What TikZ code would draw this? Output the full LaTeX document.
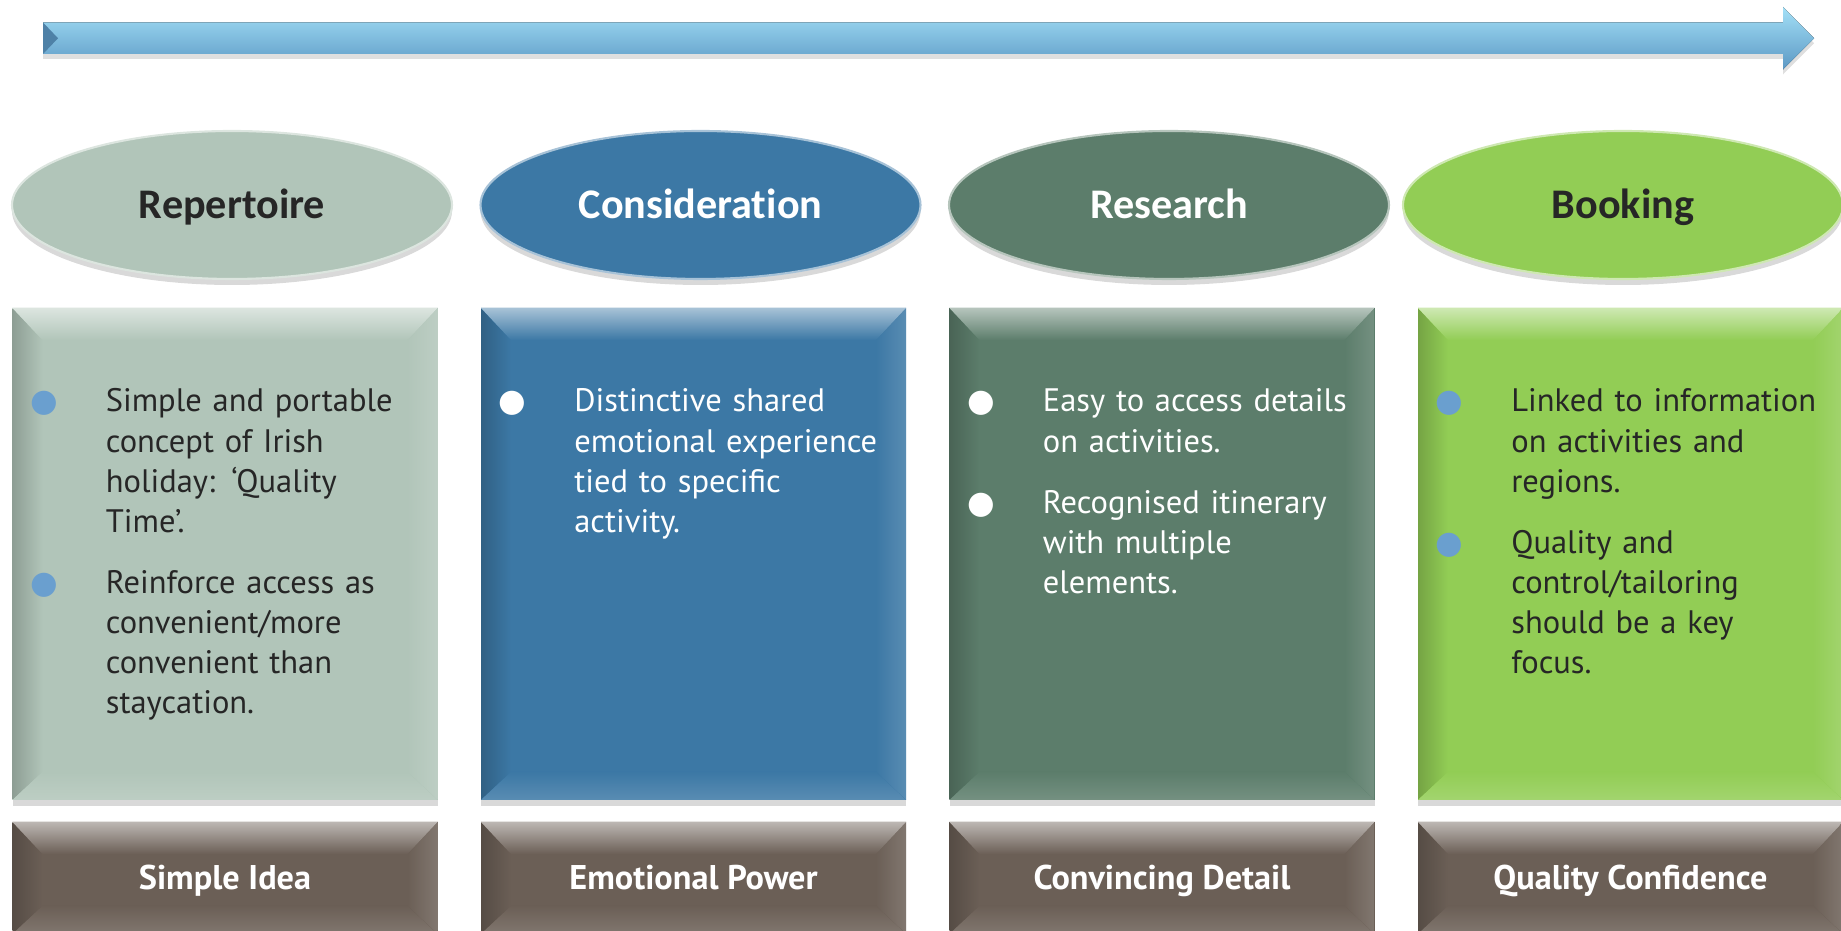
\documentclass[tikz,border=0pt]{standalone}
\usepackage{fontspec}
\setmainfont{PT Sans}
\newfontfamily\headfont[Ligatures=NoCommon]{Carlito}
\newfontfamily\dotfont{DejaVu Sans}
\usetikzlibrary{shapes.geometric, shadows, positioning}

\definecolor{sage}{HTML}{B1C5B9}
\definecolor{steel}{HTML}{3C78A5}
\definecolor{moss}{HTML}{5C7D6B}
\definecolor{lime}{HTML}{92CD55}
\definecolor{taupe}{HTML}{6B5F56}
\definecolor{dotblue}{HTML}{6A9FCF}
\definecolor{ink}{HTML}{262626}
\definecolor{arrowtop}{HTML}{A3E0F7}
\definecolor{arrowmid}{HTML}{7CB9E0}
\definecolor{arrowbot}{HTML}{5C98C4}

% bullet point with hanging indent
\newcommand{\bpt}[2]{\hangindent=1.51cm\hangafter=1\noindent\makebox[1.51cm][l]{\textcolor{#1}{\dotfont\fontsize{18}{18}\selectfont ●}}#2\par}

\begin{document}
\begin{tikzpicture}[
    oval/.style={ellipse, minimum width=8.8cm, minimum height=2.96cm, inner sep=0pt, outer sep=0pt,
        fill=#1, draw=#1!45!white, line width=1.2pt,
        drop shadow={shadow xshift=0cm, shadow yshift=-0.12cm, opacity=0.3},
        text height=18pt, text depth=2.5pt,
        font=\headfont\bfseries\fontsize{24}{28}\selectfont},
    panel/.style={rectangle, minimum width=8.5cm, inner sep=0pt, outer sep=0pt, fill=#1,
        drop shadow={shadow xshift=0cm, shadow yshift=-0.12cm, opacity=0.3},
        path picture={
            \coordinate (pnw) at (path picture bounding box.north west);
            \coordinate (pne) at (path picture bounding box.north east);
            \coordinate (psw) at (path picture bounding box.south west);
            \coordinate (pse) at (path picture bounding box.south east);
            \fill[left color=#1!80!black, right color=#1] (pnw) -- ([shift={(0.6,-0.64)}]pnw)
                -- ([shift={(0.6,0.56)}]psw) -- (psw) -- cycle;
            \fill[right color=#1!85!white, left color=#1] (pne) -- ([shift={(-0.6,-0.64)}]pne)
                -- ([shift={(-0.6,0.56)}]pse) -- (pse) -- cycle;
            \fill[top color=#1!45!white, bottom color=#1] (pnw) -- (pne)
                -- ([shift={(-0.6,-0.64)}]pne) -- ([shift={(0.6,-0.64)}]pnw) -- cycle;
            \fill[bottom color=#1!85!white, top color=#1] (psw) -- (pse)
                -- ([shift={(-0.6,0.56)}]pse) -- ([shift={(0.6,0.56)}]psw) -- cycle;
        }},
    textbox/.style={panel=#1, minimum height=9.84cm},
    tag/.style={panel=taupe, minimum height=2.24cm, text=white, text height=16pt, text depth=2.4pt,
        font=\bfseries\fontsize{19.5}{23}\selectfont},
    blurb/.style={anchor=base west, inner sep=0pt, text width=8cm, font=\fontsize{18.5}{22.8}\selectfont},
    node distance=0.58cm and 0.87cm
]
    \useasboundingbox (0,0) rectangle (36.82,18.62);

    % Timeline arrow
    \coordinate (tl-start) at (0.86,17.855);
    \coordinate (tl-end) at (36.28,17.855);
    \fill[top color=arrowtop, middle color=arrowmid, bottom color=arrowbot,
          drop shadow={shadow xshift=0cm, shadow yshift=-0.1cm, opacity=0.25}]
        ([yshift=0.315cm]tl-start) -- ([shift={(-0.62,0.315)}]tl-end) -- ([shift={(-0.62,0.625)}]tl-end)
        -- (tl-end) -- ([shift={(-0.62,-0.625)}]tl-end) -- ([shift={(-0.62,-0.315)}]tl-end)
        -- ([yshift=-0.315cm]tl-start) -- cycle;
    \fill[arrowbot!85!black] ([yshift=0.315cm]tl-start) -- ([xshift=0.3cm]tl-start)
        -- ([yshift=-0.315cm]tl-start) -- cycle;

    % Boxes
    \node[textbox=sage] (rep-box) at (4.5,7.54) {};
    \node[textbox=steel, right=of rep-box] (con-box) {};
    \node[textbox=moss, right=of con-box] (res-box) {};
    \node[textbox=lime, right=of res-box] (boo-box) {};

    % Stages
    \node[oval=sage, text=ink, above=of rep-box, xshift=0.14cm] (rep) {Repertoire};
    \node[oval=steel, text=white, above=of con-box, xshift=0.14cm] (con) {Consideration};
    \node[oval=moss, text=white, above=of res-box, xshift=0.14cm] (res) {Research};
    \node[oval=lime, text=ink, above=of boo-box, xshift=-0.15cm] (boo) {Booking};

    % Tags
    \node[tag, below=0.44cm of rep-box] (rep-tag) {Simple Idea};
    \node[tag, below=0.44cm of con-box] (con-tag) {Emotional Power};
    \node[tag, below=0.44cm of res-box] (res-tag) {Convincing Detail};
    \node[tag, below=0.44cm of boo-box] (boo-tag) {Quality Confidence};

    % Points
    \node[blurb, text=ink] (rep-txt) at ([shift={(0.35,-2.08)}]rep-box.north west) {\setlength{\parskip}{0.42cm}%
        \bpt{dotblue}{Simple and portable\newline concept of Irish\newline holiday: ‘Quality\newline Time’.}
        \bpt{dotblue}{Reinforce access as\newline convenient/more\newline convenient than\newline staycation.}};
    \node[blurb, text=white] (con-txt) at ([shift={(0.35,-2.08)}]con-box.north west) {\setlength{\parskip}{0.42cm}%
        \bpt{white}{Distinctive shared\newline emotional experience\newline tied to specific\newline activity.}};
    \node[blurb, text=white] (res-txt) at ([shift={(0.35,-2.08)}]res-box.north west) {\setlength{\parskip}{0.42cm}%
        \bpt{white}{Easy to access details\newline on activities.}
        \bpt{white}{Recognised itinerary\newline with multiple\newline elements.}};
    \node[blurb, text=ink] (boo-txt) at ([shift={(0.35,-2.08)}]boo-box.north west) {\setlength{\parskip}{0.42cm}%
        \bpt{dotblue}{Linked to information\newline on activities and\newline regions.}
        \bpt{dotblue}{Quality and\newline control/tailoring\newline should be a key\newline focus.}};
\end{tikzpicture}
\end{document}
